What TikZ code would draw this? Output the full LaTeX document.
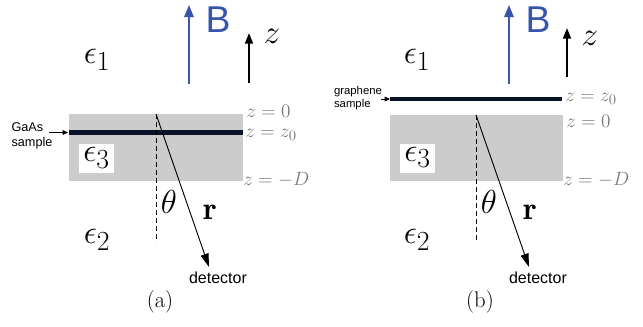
\documentclass[tikz,border=0pt]{standalone}
\usepackage{fontspec}
\newfontfamily\arial{Liberation Sans}
\usetikzlibrary{arrows.meta}
\definecolor{bblue}{RGB}{55,85,170}
\definecolor{slab}{RGB}{204,204,204}
\definecolor{sheet}{RGB}{10,18,40}
\definecolor{lbl}{RGB}{120,120,120}
\tikzset{
  eps/.style={inner sep=0pt,font=\fontsize{28}{32}\selectfont},
  zlbl/.style={inner sep=0pt,anchor=west,text=lbl,font=\fontsize{15}{17}\selectfont},
  sans/.style={inner sep=0pt,font=\arial\fontsize{12}{13}\selectfont},
  small/.style={inner sep=0pt,font=\arial\fontsize{9.5}{11}\selectfont,align=left},
  mathbig/.style={inner sep=0pt,font=\fontsize{24}{26}\selectfont},
  barrow/.style={draw=bblue,line width=1.5pt,-{Triangle[length=9pt,width=7pt]}},
  zarrow/.style={draw=black,line width=1.3pt,-{Triangle[length=8pt,width=6pt]}},
  rarrow/.style={draw=black,line width=0.7pt,-{Triangle[length=10pt,width=6pt]}},
  sarrow/.style={draw=black,line width=0.6pt,-{Triangle[length=4pt,width=3.5pt]}},
  vline/.style={draw=black,line width=0.6pt,dash pattern=on 3.5pt off 2.5pt},
  captext/.style={inner sep=0pt,font=\fontsize{17}{19}\selectfont}
}
\begin{document}
\begin{tikzpicture}[x=0.75pt,y=-0.75pt]
\useasboundingbox (0,0) rectangle (643,326);
% ---------------- panel (a)
\fill[slab] (69,114) rectangle (243,181);
\fill[sheet] (69,130) rectangle (243,135);
\node[fill=white,minimum width=35*0.75pt,minimum height=29*0.75pt,inner sep=0pt] (ae3) at (96.5,158.5) {};
\node[eps] (ae3t) at (96.5,158) {$\epsilon_3$};
\node[eps] (ae1) at (97,60) {$\epsilon_1$};
\node[eps] (ae2) at (97,240) {$\epsilon_2$};
\coordinate (aBs) at (189,84);
\coordinate (aBe) at (189,5);
\draw[barrow] (aBs) -- (aBe);
\node[inner sep=0pt,text=bblue,font=\arial\fontsize{28}{30}\selectfont] (aB) at (218,20) {B};
\coordinate (azs) at (249,83);
\coordinate (aze) at (249,33);
\draw[zarrow] (azs) -- (aze);
\node[inner sep=0pt,font=\fontsize{30}{32}\selectfont] (az) at (272,36) {$z$};
\node[zlbl] (az0) at (246,111) {$z=0$};
\node[zlbl] (azz) at (245,135) {$z=z_0$};
\node[zlbl] (azd) at (243,180) {$z=-D$};
\coordinate (ao) at (156,114);
\coordinate (av) at (156,242);
\coordinate (adet) at (209,267);
\draw[vline] (ao) -- (av);
\draw[rarrow] (ao) -- (adet);
\node[mathbig] (ath) at (169,202) {$\theta$};
\node[mathbig] (ar) at (210,212) {$\mathbf{r}$};
\node[sans] (adt) at (218,278) {detector};
\node[small] (agaas) at (32,136) {GaAs\\sample};
\coordinate (aas) at (49,132.5);
\coordinate (aae) at (68,132.5);
\draw[sarrow] (aas) -- (aae);
\node[captext] (acap) at (160,302) {(a)};
% ---------------- panel (b)
\fill[slab] (390,115) rectangle (563,181);
\fill[sheet] (390,97) rectangle (562,101);
\node[fill=white,minimum width=35*0.75pt,minimum height=29*0.75pt,inner sep=0pt] (be3) at (417.5,158) {};
\node[eps] (be3t) at (417.5,157.5) {$\epsilon_3$};
\node[eps] (be1) at (417,60) {$\epsilon_1$};
\node[eps] (be2) at (417,240) {$\epsilon_2$};
\coordinate (bBs) at (509,84);
\coordinate (bBe) at (509,5);
\draw[barrow] (bBs) -- (bBe);
\node[inner sep=0pt,text=bblue,font=\arial\fontsize{28}{30}\selectfont] (bB) at (538,20) {B};
\coordinate (bzs) at (567,77);
\coordinate (bze) at (567,28);
\draw[zarrow] (bzs) -- (bze);
\node[inner sep=0pt,font=\fontsize{30}{32}\selectfont] (bz) at (590,38) {$z$};
\node[zlbl] (bzz) at (565,99) {$z=z_0$};
\node[zlbl] (bz0) at (566,121) {$z=0$};
\node[zlbl] (bzd) at (563,180) {$z=-D$};
\coordinate (bo) at (476,115);
\coordinate (bv) at (476,242);
\coordinate (bdet) at (529,267);
\draw[vline] (bo) -- (bv);
\draw[rarrow] (bo) -- (bdet);
\node[mathbig] (bth) at (489,202) {$\theta$};
\node[mathbig] (br) at (530,212) {$\mathbf{r}$};
\node[sans] (bdt) at (538,278) {detector};
\node[small,font=\arial\fontsize{8.5}{10}\selectfont] (bgr) at (358,98) {graphene\\sample};
\coordinate (bas) at (381,99);
\coordinate (bae) at (390,99);
\draw[sarrow] (bas) -- (bae);
\node[captext] (bcap) at (480,302) {(b)};
\end{tikzpicture}
\end{document}
